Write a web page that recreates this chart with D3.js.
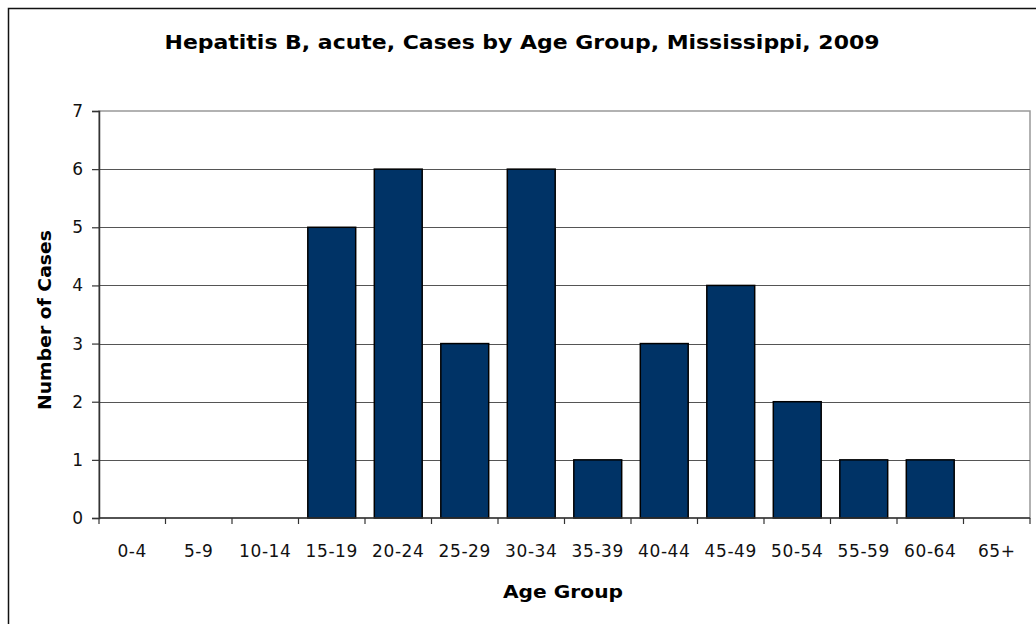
<!DOCTYPE html>
<html>
<head>
<meta charset="utf-8">
<script src="https://cdn.jsdelivr.net/npm/d3@7"></script>
<style>
  body { margin: 0; background: #fff; }
  svg { display: block; }
</style>
</head>
<body>
<svg id="chart" width="1036" height="624"></svg>
<script>
// Chart data
const ageGroups = ['0-4', '5-9', '10-14', '15-19', '20-24', '25-29', '30-34',
                   '35-39', '40-44', '45-49', '50-54', '55-59', '60-64', '65+'];
const caseCounts = [0, 0, 0, 5, 6, 3, 6, 1, 3, 4, 2, 1, 1, 0];
const yTicks = [0, 1, 2, 3, 4, 5, 6, 7];

const titleText = 'Hepatitis B, acute, Cases by Age Group, Mississippi, 2009';
const xLabel = 'Age Group';
const yLabel = 'Number of Cases';

const svg = d3.select('#chart');
const font = '"DejaVu Sans", Verdana, sans-serif';

// Plot area
const plot = { left: 99, top: 111, right: 1030, bottom: 518 };

// Outer chart border (only top and left fall inside the window)
svg.append('rect')
    .attr('x', 8.5).attr('y', 8.5)
    .attr('width', 1100).attr('height', 700)
    .attr('fill', 'none')
    .attr('stroke', '#111')
    .attr('stroke-width', 1.5);

const x = d3.scaleBand()
    .domain(ageGroups)
    .range([plot.left, plot.right]);

const y = d3.scaleLinear()
    .domain([0, 7])
    .range([plot.bottom, plot.top]);

// Plot area border (gray)
svg.append('rect')
    .attr('x', plot.left).attr('y', plot.top)
    .attr('width', plot.right - plot.left)
    .attr('height', plot.bottom - plot.top)
    .attr('fill', 'none')
    .attr('stroke', '#999')
    .attr('stroke-width', 1.5);

// Gridlines
svg.append('g')
    .selectAll('line')
    .data(yTicks.filter(d => d > 0 && d < 7))
    .enter()
    .append('line')
    .attr('x1', plot.left).attr('x2', plot.right)
    .attr('y1', d => Math.round(y(d)) + 0.5)
    .attr('y2', d => Math.round(y(d)) + 0.5)
    .attr('stroke', '#555')
    .attr('stroke-width', 1.2);

// Bars
const barFrac = 0.72;
svg.append('g')
    .selectAll('rect')
    .data(ageGroups.map((g, i) => ({ group: g, value: caseCounts[i] })).filter(d => d.value > 0))
    .enter()
    .append('rect')
    .attr('x', d => x(d.group) + x.bandwidth() * (1 - barFrac) / 2)
    .attr('y', d => y(d.value))
    .attr('width', x.bandwidth() * barFrac)
    .attr('height', d => y(0) - y(d.value))
    .attr('fill', '#003366')
    .attr('stroke', '#000')
    .attr('stroke-width', 1.5);

// Y axis
const yAxis = svg.append('g')
    .attr('transform', `translate(${plot.left},0)`)
    .call(d3.axisLeft(y).tickValues(yTicks).tickSize(7).tickPadding(9).tickFormat(d3.format('d')));
yAxis.select('.domain').attr('stroke', '#333').attr('stroke-width', 1.5);
yAxis.selectAll('.tick line').attr('stroke', '#333').attr('stroke-width', 1.2);
yAxis.selectAll('.tick text')
    .attr('font-family', font)
    .attr('font-size', 17)
    .attr('fill', '#111');

// X axis: ticks at band boundaries
const xAxisG = svg.append('g')
    .attr('transform', `translate(0,${plot.bottom})`);
xAxisG.append('line')
    .attr('x1', plot.left).attr('x2', plot.right)
    .attr('y1', 0).attr('y2', 0)
    .attr('stroke', '#333')
    .attr('stroke-width', 1.5);
const boundaries = ageGroups.map(g => x(g)).concat([plot.right]);
xAxisG.selectAll('line.tick')
    .data(boundaries)
    .enter()
    .append('line')
    .attr('class', 'tick')
    .attr('x1', d => d).attr('x2', d => d)
    .attr('y1', 0).attr('y2', 6)
    .attr('stroke', '#333')
    .attr('stroke-width', 1.2);
xAxisG.selectAll('text')
    .data(ageGroups)
    .enter()
    .append('text')
    .attr('x', d => x(d) + x.bandwidth() / 2)
    .attr('y', 39)
    .attr('text-anchor', 'middle')
    .attr('font-family', font)
    .attr('font-size', 17)
    .attr('letter-spacing', 0.6)
    .attr('fill', '#111')
    .text(d => d);

// Title
svg.append('text')
    .attr('x', 522).attr('y', 49)
    .attr('text-anchor', 'middle')
    .attr('font-family', font)
    .attr('font-size', 20)
    .attr('font-weight', 'bold')
    .attr('fill', '#000')
    .attr('textLength', 715)
    .attr('lengthAdjust', 'spacingAndGlyphs')
    .text(titleText);

// Axis titles
svg.append('text')
    .attr('x', 563).attr('y', 598)
    .attr('text-anchor', 'middle')
    .attr('font-family', font)
    .attr('font-size', 17)
    .attr('font-weight', 'bold')
    .attr('fill', '#000')
    .attr('textLength', 120)
    .attr('lengthAdjust', 'spacingAndGlyphs')
    .text(xLabel);

svg.append('text')
    .attr('transform', 'translate(51,320) rotate(-90)')
    .attr('text-anchor', 'middle')
    .attr('font-family', font)
    .attr('font-size', 17)
    .attr('font-weight', 'bold')
    .attr('fill', '#000')
    .attr('textLength', 180)
    .attr('lengthAdjust', 'spacingAndGlyphs')
    .text(yLabel);
</script>
</body>
</html>
